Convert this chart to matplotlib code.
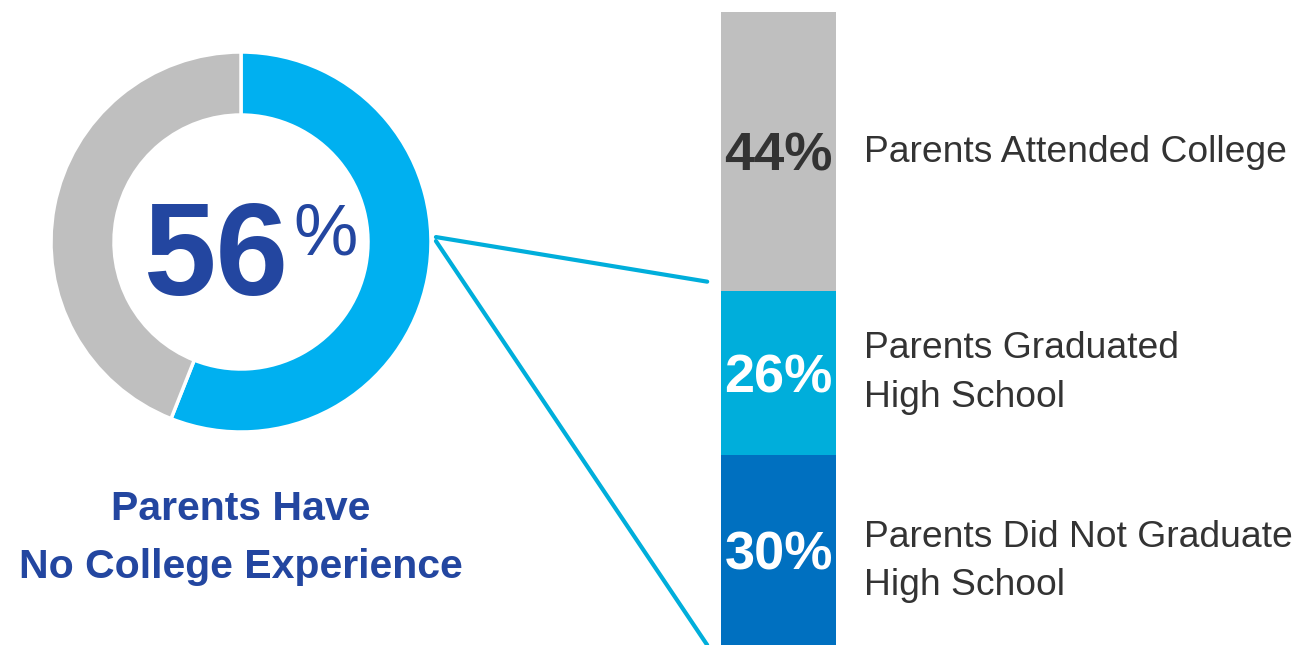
import matplotlib
matplotlib.use("Agg")
import matplotlib.pyplot as plt
from matplotlib.patches import ConnectionPatch

# data
donut_vals = [56, 44]
donut_colors = ["#00B0F0", "#BFBFBF"]
headline = "56"
donut_title = ["Parents Have", "No College Experience"]

bar_labels = [["Parents Did Not Graduate", "High School"],
              ["Parents Graduated", "High School"],
              ["Parents Attended College"]]
bar_vals = [30, 26, 44]
bar_colors = ["#0070C0", "#00AEDB", "#BFBFBF"]
bar_text_colors = ["white", "white", "#333333"]

W, H = 1299, 645
fig = plt.figure(figsize=(W / 100, H / 100), dpi=100)
fig.patch.set_facecolor("white")

def fx(x):
    return x / W

def fy(y):
    return 1 - y / H

navy = "#2346A0"

# donut
cx, cy, r_out, r_in = 241, 242, 190, 127
ax_pie = fig.add_axes([fx(cx - r_out), fy(cy + r_out), 2 * r_out / W, 2 * r_out / H])
ax_pie.pie(donut_vals, colors=donut_colors, startangle=90, counterclock=False,
           radius=1, wedgeprops=dict(width=(r_out - r_in) / r_out, edgecolor="white", linewidth=2.5))
ax_pie.set_xlim(-1, 1)
ax_pie.set_ylim(-1, 1)
ax_pie.set_aspect("auto")
ax_pie.axis("off")

fig.text(fx(143), fy(295), headline, fontsize=94, fontweight="bold", color=navy,
         family="Liberation Sans", ha="left", va="baseline")
fig.text(fx(293), fy(254), "%", fontsize=52, color=navy,
         family="Liberation Sans", ha="left", va="baseline")

for line, base in zip(donut_title, [520, 578]):
    fig.text(fx(cx), fy(base), line, fontsize=29.5, fontweight="bold", color=navy,
             family="Liberation Sans", ha="center", va="baseline")

# stacked bar
bx0, bx1, btop = 721, 836, 12
ax_bar = fig.add_axes([fx(bx0), 0, (bx1 - bx0) / W, (H - btop) / H])
bottom = 0
for v, c, tc in zip(bar_vals, bar_colors, bar_text_colors):
    ax_bar.bar(0, v, width=1, bottom=bottom, color=c, linewidth=0)
    ax_bar.text(0, bottom + v / 2, f"{v}%", ha="center", va="center_baseline",
                fontsize=39, fontweight="bold", color=tc, family="Liberation Sans")
    bottom += v
ax_bar.set_xlim(-0.5, 0.5)
ax_bar.set_ylim(0, sum(bar_vals))
ax_bar.axis("off")

# labels to the right of the bar
label_baselines = [[547, 595], [358, 407], [162]]
for lines, bases in zip(bar_labels, label_baselines):
    for line, base in zip(lines, bases):
        fig.text(fx(864), fy(base), line, fontsize=26.8, color="#333333",
                 family="Liberation Sans", ha="left", va="baseline")

# connector lines
line_color = "#00AEDB"
for ya, yb in [(0.026, donut_vals[0] + 1.4), (0.005, 0)]:
    con = ConnectionPatch(xyA=(1.026, ya), coordsA=ax_pie.transData,
                          xyB=(-0.62, yb), coordsB=ax_bar.transData,
                          color=line_color, linewidth=3)
    fig.add_artist(con)

fig.savefig("out.png", dpi=100, facecolor="white")
